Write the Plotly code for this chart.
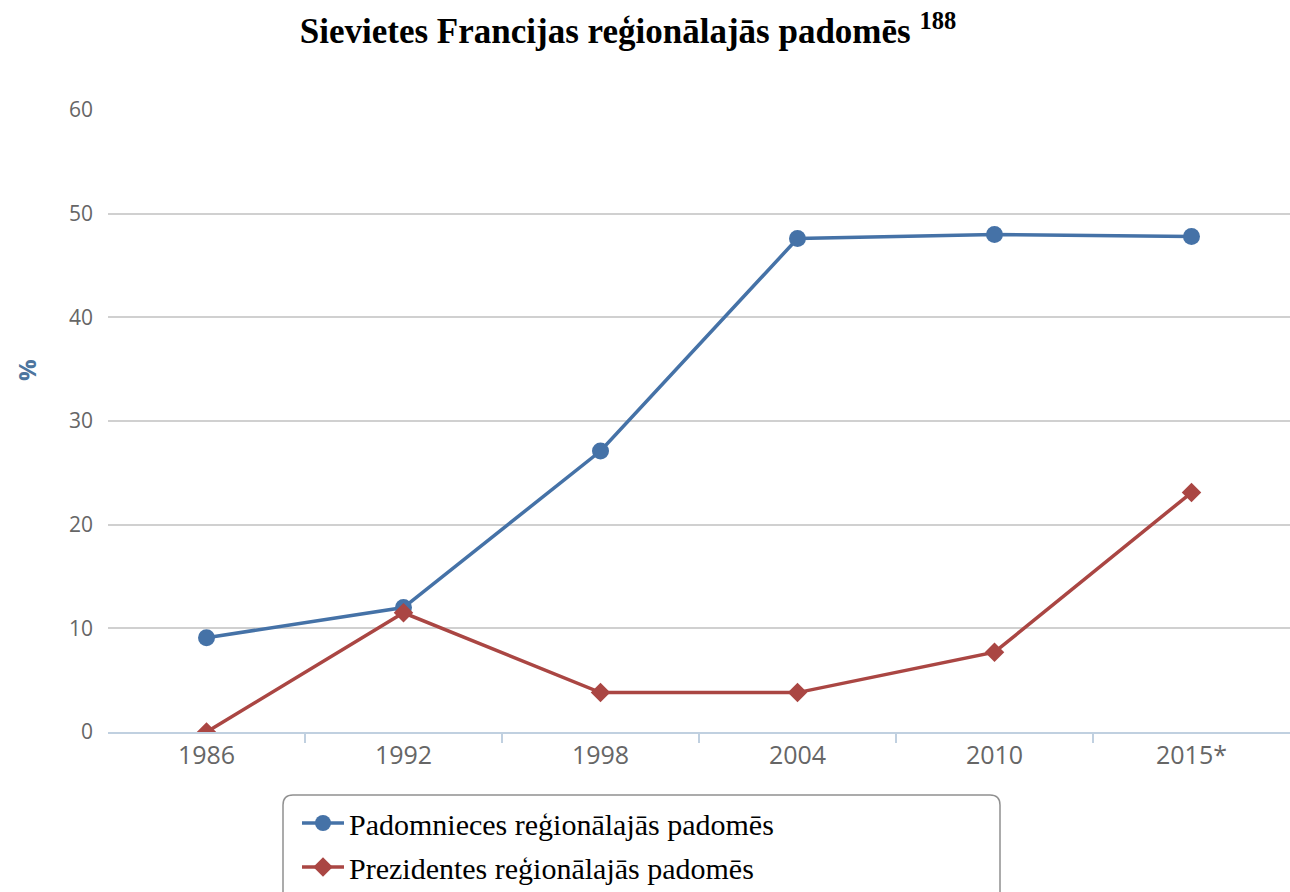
import plotly.graph_objects as go

categories = ["1986", "1992", "1998", "2004", "2010", "2015*"]
padomnieces = [9.1, 12.0, 27.1, 47.6, 48.0, 47.8]
prezidentes = [0.0, 11.5, 3.8, 3.8, 7.7, 23.1]
series_names = ["Padomnieces reģionālajās padomēs", "Prezidentes reģionālajās padomēs"]
y_ticks = [0, 10, 20, 30, 40, 50, 60]
boundary_ticks = [0.5, 1.5, 2.5, 3.5, 4.5]

W, H = 1290, 892
ML, MR, MT, MB = 108, 0, 110, 892 - 732

fig = go.Figure()
fig.add_trace(go.Scatter(
    x=categories, y=padomnieces, name=series_names[0], mode="lines+markers",
    line=dict(color="#4572A7", width=3.5),
    marker=dict(symbol="circle", size=17, color="#4572A7"),
    legendgroup="a",
))
fig.add_trace(go.Scatter(
    x=categories, y=prezidentes, name=series_names[1], mode="lines+markers",
    line=dict(color="#AA4643", width=3.5),
    marker=dict(symbol="diamond", size=15, color="#AA4643"),
    legendgroup="b",
))
# helper trace so the boundary-tick axis gets drawn
fig.add_trace(go.Scatter(
    x=[0.0], y=[None], xaxis="x2", yaxis="y", mode="markers",
    showlegend=False, hoverinfo="skip", marker=dict(opacity=0),
))

# rounded legend box (coordinates given in screen pixels)
pw = W - ML - MR
ph = H - MT - MB
def px_x(p):
    return (p - ML) / pw
def px_y(p):
    return (H - MB - p) / ph
x0, x1, y0, y1, r = 283, 1000, 795, 905, 10
path = (
    f"M {px_x(x0 + r)} {px_y(y0)} L {px_x(x1 - r)} {px_y(y0)} "
    f"Q {px_x(x1)} {px_y(y0)} {px_x(x1)} {px_y(y0 + r)} "
    f"L {px_x(x1)} {px_y(y1)} L {px_x(x0)} {px_y(y1)} "
    f"L {px_x(x0)} {px_y(y0 + r)} Q {px_x(x0)} {px_y(y0)} {px_x(x0 + r)} {px_y(y0)} Z"
)
fig.add_shape(type="path", path=path, xref="paper", yref="paper",
              line=dict(color="#909090", width=1.5), fillcolor="rgba(0,0,0,0)", layer="below")

fig.add_annotation(
    text="%", textangle=-90, xref="paper", yref="paper",
    x=px_x(26), y=px_y(370), xanchor="center", yanchor="middle", showarrow=False,
    font=dict(family="Open Sans", size=24, color="#4D759E", weight="bold"),
)

fig.update_layout(
    width=W, height=H,
    margin=dict(l=ML, r=MR, t=MT, b=MB, autoexpand=False),
    paper_bgcolor="white", plot_bgcolor="white",
    title=dict(
        text="<b>Sievietes Francijas reģionālajās padomēs <sup>188</sup></b>",
        x=628 / W, xanchor="center", xref="container",
        y=1 - 31 / H, yanchor="middle", yref="container",
        font=dict(family="Liberation Serif", size=35, color="black"),
    ),
    showlegend=True,
    legend=dict(
        x=px_x(297), xanchor="left", y=px_y(797), yanchor="top",
        orientation="v", bgcolor="rgba(0,0,0,0)", borderwidth=0,
        font=dict(family="Liberation Serif", size=30, color="black"),
        itemwidth=42, tracegroupgap=2,
    ),
    xaxis=dict(
        type="category", range=[-0.5, 5.5],
        showgrid=False, showline=True, linecolor="#C0D0E0", linewidth=2,
        ticks="",
        tickfont=dict(family="Open Sans", size=25, color="#666666"),
        zeroline=False,
    ),
    xaxis2=dict(
        overlaying="x", anchor="y", side="bottom", range=[-0.5, 5.5],
        tickvals=boundary_ticks, showticklabels=False, ticks="outside", ticklen=10,
        tickcolor="#C0D0E0", tickwidth=1.5, showgrid=False, zeroline=False, showline=False,
    ),
    yaxis=dict(
        range=[0, 60], tickvals=y_ticks, showgrid=True, gridcolor="#D0D0D0", gridwidth=2,
        zeroline=False, showline=False, ticks="", ticklabelstandoff=14,
        tickfont=dict(family="Open Sans", size=21, color="#666666"),
    ),
)

fig.write_html(
    "out.html",
    config={"displayModeBar": False},
    post_script="document.body.style.margin='0px';document.body.style.overflow='hidden';",
)
